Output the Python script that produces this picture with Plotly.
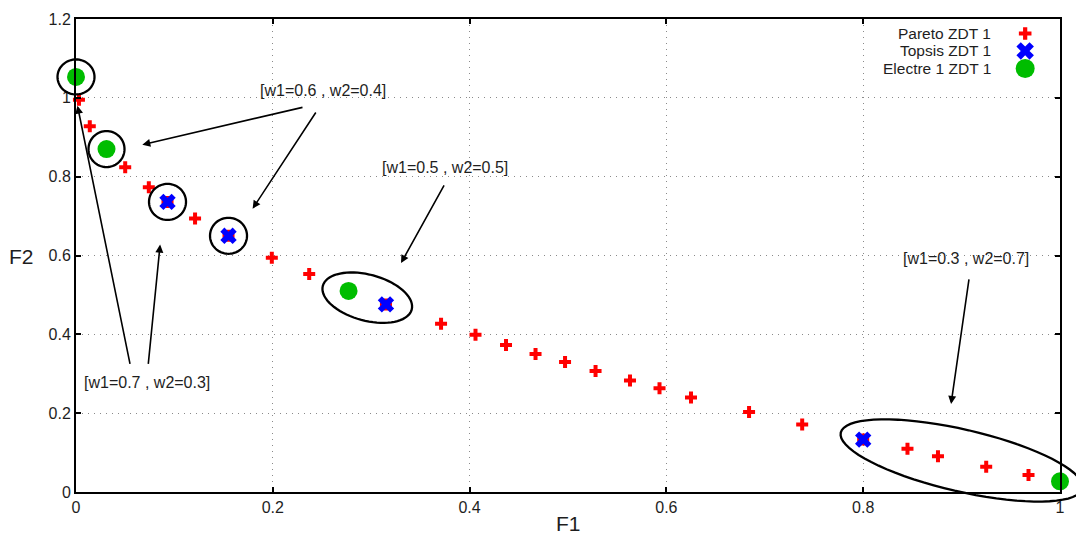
import math
import plotly.graph_objects as go

# ---- data -------------------------------------------------------------
pareto_f1 = [0.003, 0.014, 0.031, 0.050, 0.074, 0.093, 0.121, 0.155, 0.199, 0.237,
             0.277, 0.315, 0.371, 0.406, 0.437, 0.467, 0.497, 0.528, 0.563, 0.593,
             0.625, 0.684, 0.738, 0.800, 0.845, 0.876, 0.925, 0.968, 1.000]
pareto_f2 = [0.995, 0.928, 0.870, 0.824, 0.773, 0.736, 0.694, 0.650, 0.594, 0.553,
             0.510, 0.476, 0.427, 0.399, 0.373, 0.350, 0.330, 0.307, 0.283, 0.263,
             0.240, 0.203, 0.171, 0.133, 0.110, 0.091, 0.064, 0.043, 0.027]

topsis_f1 = [0.093, 0.155, 0.315, 0.800]
topsis_f2 = [0.736, 0.650, 0.476, 0.133]

electre_f1 = [0.000, 0.031, 0.277, 1.000]
electre_f2 = [1.053, 0.870, 0.510, 0.027]

series_names = ["Pareto ZDT 1", "Topsis ZDT 1", "Electre 1 ZDT 1"]
weight_labels = ["[w1=0.7 , w2=0.3]", "[w1=0.6 , w2=0.4]",
                 "[w1=0.5 , w2=0.5]", "[w1=0.3 , w2=0.7]"]

x_ticks = [0, 0.2, 0.4, 0.6, 0.8, 1.0]
y_ticks = [0, 0.2, 0.4, 0.6, 0.8, 1.0, 1.2]
x_tick_text = ["0", "0.2", "0.4", "0.6", "0.8", "1"]
y_tick_text = ["0", "0.2", "0.4", "0.6", "0.8", "1", "1.2"]

# ---- styling ----------------------------------------------------------
FONT = "Liberation Sans, Arial, Helvetica, sans-serif"
TEXT_COLOR = "#1e1e1e"
RED, BLUE, GREEN = "#ff0000", "#0000ff", "#00bd00"
X_RANGE = [0, 1]
Y_RANGE = [0, 1.2]


def px_frac_x(v):
    return (v - X_RANGE[0]) / (X_RANGE[1] - X_RANGE[0])


def px_frac_y(v):
    return (v - Y_RANGE[0]) / (Y_RANGE[1] - Y_RANGE[0])


def ellipse_path(a, b, tilt_deg, n=72):
    """Closed SVG path of an ellipse (pixels, y up) tilted down to the right."""
    t = math.radians(tilt_deg)
    pts = []
    for i in range(n):
        p = 2 * math.pi * i / n
        ex, ey = a * math.cos(p), b * math.sin(p)
        x = ex * math.cos(t) + ey * math.sin(t)
        y = -ex * math.sin(t) + ey * math.cos(t)
        pts.append(f"{x:.2f},{y:.2f}")
    return "M" + " L".join(pts) + " Z"


fig = go.Figure()

fig.add_trace(go.Scatter(
    x=pareto_f1, y=pareto_f2, mode="markers", name=series_names[0],
    marker=dict(symbol="cross", size=10, color=RED, line=dict(width=0)),
    cliponaxis=False, showlegend=False))
fig.add_trace(go.Scatter(
    x=topsis_f1, y=topsis_f2, mode="markers", name=series_names[1],
    marker=dict(symbol="x", size=14.5, color=BLUE, line=dict(width=0)),
    cliponaxis=False, showlegend=False))
fig.add_trace(go.Scatter(
    x=electre_f1, y=electre_f2, mode="markers", name=series_names[2],
    marker=dict(symbol="circle", size=18, color=GREEN, line=dict(width=0)),
    cliponaxis=False, showlegend=False))

# ---- legend: label on the left, key on the right ----------------------
legend_rows = [0.9693, 0.9325, 0.8955]
legend_key_x = 0.9646
legend_text_x = 0.9319
legend_symbols = [("cross", 10.5, RED), ("x", 15.5, BLUE), ("circle", 19, GREEN)]
for name, row, (sym, size, col) in zip(series_names, legend_rows, legend_symbols):
    fig.add_trace(go.Scatter(
        x=[legend_key_x], y=[row], xaxis="x2", yaxis="y2", mode="markers",
        marker=dict(symbol=sym, size=size, color=col, line=dict(width=0)),
        cliponaxis=False, showlegend=False, hoverinfo="skip"))

annotations = []
for name, row in zip(series_names, legend_rows):
    annotations.append(dict(
        xref="paper", yref="paper", x=legend_text_x, y=row, text=name,
        xanchor="right", yanchor="middle", showarrow=False,
        font=dict(family=FONT, size=15.5, color=TEXT_COLOR)))

# ---- highlight rings around the selected solutions ---------------------
rings = [
    # (centre f1, centre f2, semi-axis a px, semi-axis b px, tilt deg)
    (electre_f1[0], electre_f2[0], 18.5, 17.5, 0),
    (electre_f1[1], electre_f2[1], 18.0, 18.0, 0),
    (topsis_f1[0], topsis_f2[0], 18.5, 18.0, 0),
    (topsis_f1[1], topsis_f2[1], 18.5, 18.0, 0),
    ((electre_f1[2] + topsis_f1[2]) / 2, (electre_f2[2] + topsis_f2[2]) / 2, 46, 23, 15),
    ((electre_f1[3] + topsis_f1[3]) / 2, (electre_f2[3] + topsis_f2[3]) / 2, 124, 31, 13),
]
shapes = []
for cx, cy, a, b, tilt in rings:
    shapes.append(dict(
        type="path", xref="paper", yref="paper",
        xsizemode="pixel", ysizemode="pixel",
        xanchor=px_frac_x(cx), yanchor=px_frac_y(cy),
        path=ellipse_path(a, b, tilt),
        line=dict(color="black", width=2.3), fillcolor="rgba(0,0,0,0)"))

# ---- weight call-outs --------------------------------------------------
label_pos = [(0.0725, 0.277), (0.2515, 1.018), (0.375, 0.8235), (0.904, 0.5915)]
arrows = [
    # (label index, tail f1, tail f2, head f1, head f2)
    (0, 0.0552, 0.3214, 0.0015, 0.980),
    (0, 0.0733, 0.3214, 0.0855, 0.6277),
    (1, 0.2317, 0.9767, 0.0674, 0.8812),
    (1, 0.2447, 0.9666, 0.1795, 0.7188),
    (2, 0.3749, 0.7816, 0.3303, 0.5807),
    (3, 0.9077, 0.5431, 0.8893, 0.2235),
]
for text, (lx, ly) in zip(weight_labels, label_pos):
    annotations.append(dict(
        x=lx, y=ly, xref="x", yref="y", text=text, showarrow=False,
        xanchor="center", yanchor="middle",
        font=dict(family=FONT, size=16, color=TEXT_COLOR)))
for _, tx, ty, hx, hy in arrows:
    annotations.append(dict(
        x=hx, y=hy, ax=tx, ay=ty, xref="x", yref="y", axref="x", ayref="y",
        text="", showarrow=True, arrowhead=2, arrowsize=1, arrowwidth=1.6,
        arrowcolor="black", standoff=0, startstandoff=0))

# ---- axis titles (both horizontal) -------------------------------------
annotations.append(dict(
    xref="paper", yref="paper", x=0.5, y=-0.066, text="F1", showarrow=False,
    xanchor="center", yanchor="middle",
    font=dict(family=FONT, size=21, color=TEXT_COLOR)))
annotations.append(dict(
    xref="paper", yref="paper", x=-0.055, y=0.498, text="F2", showarrow=False,
    xanchor="center", yanchor="middle",
    font=dict(family=FONT, size=21, color=TEXT_COLOR)))

axis_common = dict(
    showline=True, linewidth=2, linecolor="black", mirror="allticks",
    ticks="inside", ticklen=5, tickwidth=1.5, tickcolor="black",
    showgrid=True, gridcolor="#8a8a8a", gridwidth=1.2, griddash="1px,5px",
    zeroline=False, layer="above traces",
    tickfont=dict(family=FONT, size=16, color=TEXT_COLOR))

fig.update_layout(
    width=1076, height=536, autosize=False,
    margin=dict(l=76, r=11, t=14, b=44),
    paper_bgcolor="white", plot_bgcolor="white",
    showlegend=False,
    xaxis=dict(range=X_RANGE, tickvals=x_ticks, ticktext=x_tick_text, **axis_common),
    yaxis=dict(range=Y_RANGE, tickvals=y_ticks, ticktext=y_tick_text, **axis_common),
    xaxis2=dict(range=[0, 1], overlaying="x", visible=False),
    yaxis2=dict(range=[0, 1], overlaying="y", visible=False),
    shapes=shapes,
    annotations=annotations,
)

fig.write_html("out.html")
